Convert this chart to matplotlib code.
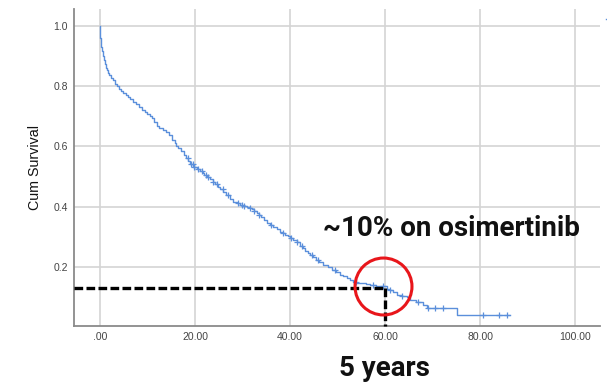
import numpy as np
import matplotlib.pyplot as plt
from matplotlib.lines import Line2D

plt.rcParams.update({
    "font.family": ["Liberation Sans", "DejaVu Sans"],
    "font.size": 7.5,
})

# Kaplan-Meier step points (months, cumulative survival)
times = [0, 0.05, 0.1, 0.2, 0.3, 0.45, 0.6, 0.8, 1.0, 1.2, 1.4, 1.7, 2.0,
         2.4, 2.8, 3.2, 3.6, 4.0, 4.4, 4.9, 5.4, 5.9, 6.4, 7.0, 7.6, 8.2,
         8.8, 9.4, 10.0, 10.6, 11.0, 11.4, 11.9, 12.5, 13.2, 14.0, 14.6,
         15.2, 15.7, 16.1, 16.5, 17.0, 17.6, 18.2, 18.6, 19.0, 19.6, 20.4,
         21.1, 21.6, 22.0, 22.6, 23.2, 23.7, 24.3, 24.8, 25.3, 25.9, 26.5,
         27.3, 28.1, 28.8, 29.5, 30.2, 30.9, 31.5, 32.0, 32.5, 33.0, 33.5,
         34.0, 34.6, 35.1, 35.8, 36.5, 37.2, 37.9, 38.5, 39.0, 39.5, 40.0,
         40.7, 41.4, 42.1, 42.7, 43.2, 43.7, 44.2, 44.8, 45.5, 46.2, 47.0,
         47.9, 48.8, 49.6, 50.5, 51.2, 52.0, 52.6, 53.3, 54.2, 55.0, 56.0,
         56.8, 58.0, 58.9, 60.4, 61.0, 61.7, 62.5, 63.5, 64.6, 65.3, 66.5,
         68.1, 68.8, 75.1, 86.3]
surv = [1.0, 0.98, 0.96, 0.945, 0.93, 0.915, 0.90, 0.885, 0.872, 0.86,
        0.852, 0.843, 0.835, 0.826, 0.819, 0.808, 0.799, 0.791, 0.784,
        0.777, 0.770, 0.764, 0.757, 0.748, 0.739, 0.729, 0.722, 0.715,
        0.708, 0.701, 0.694, 0.680, 0.666, 0.660, 0.654, 0.647, 0.636,
        0.622, 0.611, 0.602, 0.593, 0.583, 0.573, 0.563, 0.550, 0.540,
        0.533, 0.525, 0.517, 0.511, 0.505, 0.498, 0.491, 0.483, 0.475,
        0.466, 0.458, 0.448, 0.438, 0.426, 0.415, 0.411, 0.407, 0.403,
        0.400, 0.396, 0.392, 0.386, 0.380, 0.372, 0.365, 0.356, 0.347,
        0.340, 0.333, 0.325, 0.318, 0.313, 0.308, 0.303, 0.297, 0.290,
        0.283, 0.269, 0.262, 0.255, 0.248, 0.241, 0.233, 0.225, 0.217,
        0.208, 0.200, 0.192, 0.183, 0.175, 0.169, 0.163, 0.158, 0.152,
        0.149, 0.146, 0.143, 0.141, 0.138, 0.136, 0.128, 0.124, 0.119,
        0.108, 0.104, 0.100, 0.091, 0.083, 0.075, 0.063, 0.041, 0.041]

# censored observations (months)
censored = [18.5, 19.2, 19.5, 19.8, 20.6, 21.5, 22.3, 22.7, 23.8, 24.7, 25.8,
            27.0, 29.0, 30.0, 30.4, 31.5, 32.5, 33.5, 36.0, 38.5, 40.3, 41.5,
            42.6, 44.7, 46.0, 49.5, 54.0, 57.5, 59.5, 61.0, 63.5, 67.0, 69.1,
            70.5, 72.3, 80.7, 83.9, 85.6]

x_ticks = [0, 20, 40, 60, 80, 100]
x_tick_labels = [".00", "20.00", "40.00", "60.00", "80.00", "100.00"]
y_ticks = [0.2, 0.4, 0.6, 0.8, 1.0]

five_years = 60
surv_at_5y = 0.13

blue = "#5b8fdb"

fig = plt.figure(figsize=(6.07, 3.84), dpi=100)
ax = fig.add_axes([74 / 607, 1 - 325.7 / 384, 526 / 607, 316.7 / 384])

ax.plot(times, surv, drawstyle="steps-post", color=blue, lw=1.0, zorder=3)
idx = np.searchsorted(times, censored, side="right") - 1
cens_y = np.array(surv)[idx]
ax.plot(censored, cens_y, "+", color=blue, ms=5, mew=0.9, zorder=3)

ax.set_xlim(-5.47, 105.26)
ax.set_ylim(0.006, 1.055)
ax.set_xticks(x_ticks)
ax.set_xticklabels(x_tick_labels)
ax.set_yticks(y_ticks)
ax.set_yticklabels([f"{v:.1f}" for v in y_ticks])
ax.tick_params(length=0, colors="#444444", labelsize=7.5)
ax.tick_params(axis="y", pad=4.3)
ax.tick_params(axis="x", pad=4.5)
ax.grid(True, color="#d4d4d4", lw=1.2)
ax.set_axisbelow(True)
for s in ["top", "right"]:
    ax.spines[s].set_visible(False)
for s in ["left", "bottom"]:
    ax.spines[s].set_color("#8a8a8a")
    ax.spines[s].set_linewidth(1.3)
ax.set_ylabel("Cum Survival", fontsize=10.3, color="#111111", labelpad=8)

# 5-year marker
ax.plot([ax.get_xlim()[0], five_years], [surv_at_5y, surv_at_5y], color="black",
        lw=2.4, dashes=[2.6, 1.0], zorder=4, clip_on=False)
ax.plot([five_years, five_years], [surv_at_5y, ax.get_ylim()[0]], color="black",
        lw=2.4, dashes=[2.6, 1.0], zorder=4, clip_on=False)
ax.plot([59.6], [0.137], "o", ms=41, mfc="none", mec="#e8161b", mew=2.2,
        zorder=5, clip_on=False)

ax.text(73.9, 0.303, "~10% on osimertinib", ha="center", va="baseline",
        fontsize=20, fontweight="bold", family="Roboto", color="#111111")
ax.text(59.9, -0.159, "5 years", ha="center", va="baseline",
        transform=ax.get_xaxis_transform(), fontsize=20, fontweight="bold",
        family="Roboto", color="#111111")

# legend keys, cut off at the right edge as in the source
handles = [Line2D([], [], color=blue, lw=1.0),
           Line2D([], [], color=blue, marker="+", ls="none", ms=5)]
fig.legend(handles, ["", ""], loc="upper left",
           bbox_to_anchor=(601 / 607, 1 - 10 / 384), frameon=False,
           borderpad=0, handlelength=1.5, labelspacing=0.3, fontsize=7)

fig.savefig("out.png", dpi=100)
